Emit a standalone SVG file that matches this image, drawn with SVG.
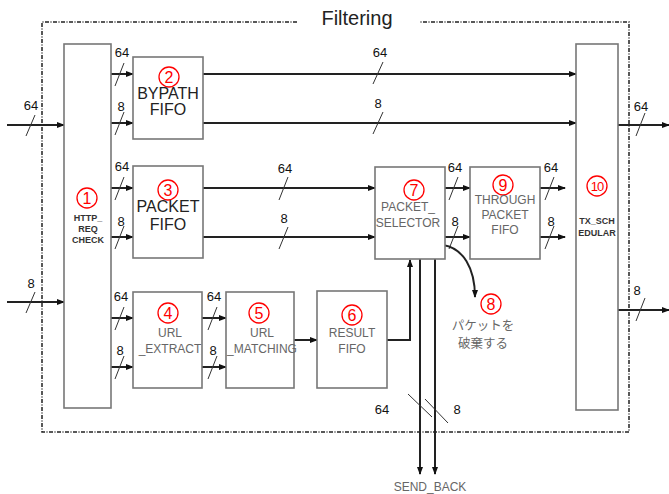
<svg xmlns="http://www.w3.org/2000/svg" width="669" height="494" viewBox="0 0 669 494">
<style>
.box{fill:#fff;stroke:#777;stroke-width:1.6}
.frame{fill:none;stroke:#222;stroke-width:1.5;stroke-dasharray:4 1.5 1 1.5}
.w{fill:none;stroke:#222;stroke-width:2}
.sl{fill:none;stroke:#333;stroke-width:1}
.n{font-family:"Liberation Sans",Arial,sans-serif;font-size:13px;fill:#111;text-anchor:middle}
.big{font-family:"Liberation Sans",Arial,sans-serif;font-size:16px;fill:#222;text-anchor:middle}
.g{font-family:"Liberation Sans",Arial,sans-serif;font-size:12px;fill:#666;text-anchor:middle}
.b{font-family:"Liberation Sans",Arial,sans-serif;font-size:9px;font-weight:bold;fill:#333;text-anchor:middle}
.cc{fill:none;stroke:#f00;stroke-width:1.3}
.c{font-family:"Liberation Sans",Arial,sans-serif;font-size:16px;fill:#f00;text-anchor:middle}
.c2{font-family:"Liberation Sans",Arial,sans-serif;font-size:13px;fill:#f00;text-anchor:middle;letter-spacing:-1px}
.jp{font-family:"Noto Sans CJK JP",sans-serif;font-size:12.5px;fill:#666;text-anchor:middle}
</style>
<defs>
<marker id="ah" markerWidth="8" markerHeight="8" refX="7" refY="4" orient="auto" markerUnits="userSpaceOnUse">
<path d="M0,1 L8,4 L0,7 Z" fill="#111"/>
</marker>
</defs>
<rect width="669" height="494" fill="#fff"/>
<g id="frame">
<path class="frame" d="M297,22 H42 V432 H629 V22 H420"/>
<text x="357" y="25" font-family="Liberation Sans,Arial,sans-serif" font-size="20" fill="#222" text-anchor="middle">Filtering</text>
</g>
<g id="connectors">
<line class="w" x1="7" y1="125" x2="64" y2="125" marker-end="url(#ah)"/>
<line class="sl" x1="26" y1="136" x2="35" y2="115"/>
<text class="n" x="31" y="110">64</text>
<line class="w" x1="7" y1="302" x2="64" y2="302" marker-end="url(#ah)"/>
<line class="sl" x1="26" y1="313" x2="35" y2="292"/>
<text class="n" x="31" y="288">8</text>
<line class="w" x1="111" y1="74" x2="133" y2="74" marker-end="url(#ah)"/>
<line class="sl" x1="115" y1="86" x2="124" y2="63"/>
<text class="n" x="122" y="57">64</text>
<line class="w" x1="111" y1="123" x2="133" y2="123" marker-end="url(#ah)"/>
<line class="sl" x1="115" y1="135" x2="124" y2="112"/>
<text class="n" x="121" y="111">8</text>
<line class="w" x1="111" y1="188" x2="133" y2="188" marker-end="url(#ah)"/>
<line class="sl" x1="115" y1="200" x2="124" y2="177"/>
<text class="n" x="122" y="171">64</text>
<line class="w" x1="111" y1="237" x2="133" y2="237" marker-end="url(#ah)"/>
<line class="sl" x1="115" y1="249" x2="124" y2="226"/>
<text class="n" x="121" y="226">8</text>
<line class="w" x1="111" y1="318" x2="133" y2="318" marker-end="url(#ah)"/>
<line class="sl" x1="115" y1="330" x2="124" y2="307"/>
<text class="n" x="121" y="301">64</text>
<line class="w" x1="111" y1="367" x2="133" y2="367" marker-end="url(#ah)"/>
<line class="sl" x1="115" y1="379" x2="124" y2="356"/>
<text class="n" x="120" y="355">8</text>
<line class="w" x1="202" y1="318" x2="226" y2="318" marker-end="url(#ah)"/>
<line class="sl" x1="208" y1="330" x2="217" y2="307"/>
<text class="n" x="214" y="301">64</text>
<line class="w" x1="202" y1="367" x2="226" y2="367" marker-end="url(#ah)"/>
<line class="sl" x1="208" y1="379" x2="217" y2="356"/>
<text class="n" x="213" y="355">8</text>
<line class="w" x1="294" y1="340" x2="317" y2="340" marker-end="url(#ah)"/>
<polyline class="w" points="387,340 410,340 410,260" marker-end="url(#ah)"/>
<line class="w" x1="203" y1="74" x2="576" y2="74" marker-end="url(#ah)"/>
<line class="sl" x1="373" y1="84" x2="383" y2="62"/>
<text class="n" x="380" y="57">64</text>
<line class="w" x1="203" y1="123" x2="576" y2="123" marker-end="url(#ah)"/>
<line class="sl" x1="373" y1="134" x2="383" y2="112"/>
<text class="n" x="378" y="108">8</text>
<line class="w" x1="203" y1="188" x2="375" y2="188" marker-end="url(#ah)"/>
<line class="sl" x1="279" y1="200" x2="288" y2="177"/>
<text class="n" x="285" y="173">64</text>
<line class="w" x1="203" y1="237" x2="375" y2="237" marker-end="url(#ah)"/>
<line class="sl" x1="279" y1="249" x2="288" y2="227"/>
<text class="n" x="284" y="223">8</text>
<line class="w" x1="445" y1="188" x2="470" y2="188" marker-end="url(#ah)"/>
<line class="sl" x1="449" y1="200" x2="458" y2="177"/>
<text class="n" x="455" y="172">64</text>
<line class="w" x1="445" y1="237" x2="470" y2="237" marker-end="url(#ah)"/>
<line class="sl" x1="449" y1="249" x2="458" y2="226"/>
<text class="n" x="455" y="226">8</text>
<line class="w" x1="540" y1="188" x2="565" y2="188" marker-end="url(#ah)"/>
<line class="sl" x1="545" y1="200" x2="554" y2="177"/>
<text class="n" x="551" y="172">64</text>
<line class="w" x1="540" y1="237" x2="565" y2="237" marker-end="url(#ah)"/>
<line class="sl" x1="545" y1="249" x2="554" y2="226"/>
<text class="n" x="551" y="226">8</text>
<line class="w" x1="618" y1="125" x2="669" y2="125" marker-end="url(#ah)"/>
<line class="sl" x1="636" y1="136" x2="645" y2="113"/>
<text class="n" x="641" y="111">64</text>
<line class="w" x1="618" y1="310" x2="669" y2="310" marker-end="url(#ah)"/>
<line class="sl" x1="636" y1="321" x2="645" y2="298"/>
<text class="n" x="637" y="295">8</text>
<line class="w" x1="420" y1="259" x2="420" y2="474" marker-end="url(#ah)"/>
<line class="w" x1="435" y1="259" x2="435" y2="474" marker-end="url(#ah)"/>
<line class="sl" x1="408" y1="394" x2="432" y2="417"/>
<line class="sl" x1="425" y1="399" x2="448" y2="423"/>
<text class="n" x="382" y="414">64</text>
<text class="n" x="457" y="414">8</text>
<path class="w" d="M443,245 C463,248 475,268 475,297" marker-end="url(#ah)"/>
</g>
<g id="n1">
<rect class="box" x="64" y="44" width="47" height="364"/>
<circle class="cc" cx="87" cy="198" r="10"/>
<text class="c" x="87" y="204">1</text>
<text class="b" x="88" y="221">HTTP_</text>
<text class="b" x="88" y="232">REQ</text>
<text class="b" x="88" y="243">CHECK</text>
</g>
<g id="n2">
<rect class="box" x="133" y="57" width="70" height="82"/>
<circle class="cc" cx="169" cy="77" r="10"/>
<text class="c" x="169" y="83">2</text>
<text class="big" x="168" y="99">BYPATH</text>
<text class="big" x="168" y="115">FIFO</text>
</g>
<g id="n3">
<rect class="box" x="133" y="166" width="70" height="92"/>
<circle class="cc" cx="168" cy="190" r="10"/>
<text class="c" x="168" y="196">3</text>
<text class="big" x="168" y="212">PACKET</text>
<text class="big" x="168" y="230">FIFO</text>
</g>
<g id="n4">
<rect class="box" x="133" y="292" width="69" height="96"/>
<circle class="cc" cx="168" cy="313" r="10"/>
<text class="c" x="168" y="319">4</text>
<text class="g" x="170" y="337">URL</text>
<text class="g" x="170" y="353">_EXTRACT</text>
</g>
<g id="n5">
<rect class="box" x="226" y="292" width="68" height="96"/>
<circle class="cc" cx="259" cy="313" r="10"/>
<text class="c" x="259" y="319">5</text>
<text class="g" x="262" y="337">URL</text>
<text class="g" x="262" y="353">_MATCHING</text>
</g>
<g id="n6">
<rect class="box" x="317" y="291" width="70" height="97"/>
<circle class="cc" cx="352" cy="315" r="10"/>
<text class="c" x="352" y="321">6</text>
<text class="g" x="352" y="337">RESULT</text>
<text class="g" x="352" y="353">FIFO</text>
</g>
<g id="n7">
<rect class="box" x="375" y="167" width="70" height="92"/>
<circle class="cc" cx="414" cy="190" r="10"/>
<text class="c" x="414" y="196">7</text>
<text class="g" x="408" y="211" font-size="13">PACKET_</text>
<text class="g" x="408" y="227" font-size="13">SELECTOR</text>
</g>
<g id="n8">
<circle class="cc" cx="491" cy="304" r="10"/>
<text class="c" x="491" y="310">8</text>
<text class="jp" x="483" y="330">パケットを</text>
<text class="jp" x="483" y="348">破棄する</text>
</g>
<g id="n9">
<rect class="box" x="470" y="167" width="70" height="92"/>
<circle class="cc" cx="503" cy="185" r="10"/>
<text class="c" x="503" y="191">9</text>
<text class="g" x="505" y="204">THROUGH</text>
<text class="g" x="505" y="219">PACKET</text>
<text class="g" x="505" y="234">FIFO</text>
</g>
<g id="n10">
<rect class="box" x="576" y="44" width="42" height="366"/>
<circle class="cc" cx="597" cy="186" r="10"/>
<text class="c2" x="597" y="191">10</text>
<text class="b" x="597" y="224">TX_SCH</text>
<text class="b" x="597" y="236">EDULAR</text>
</g>
<g id="sendback">
<text class="g" x="430" y="491" font-size="11">SEND_BACK</text>
</g>
</svg>
